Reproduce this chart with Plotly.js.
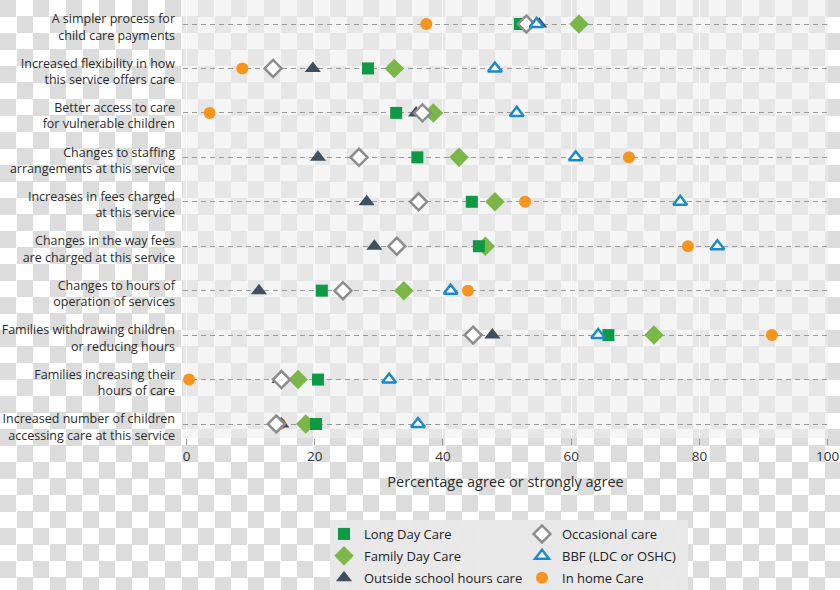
<!DOCTYPE html>
<html>
<head>
<meta charset="utf-8">
<script src="https://cdn.plot.ly/plotly-3.0.1.min.js"></script>
<style>
html,body{margin:0;padding:0;}
body{width:840px;height:590px;overflow:hidden;
background: repeating-conic-gradient(#ffffff 0% 25%, #dcdcdc 0% 50%) 0 0 / 33px 33px;}
#chart{width:840px;height:590px;}
</style>
</head>
<body>
<div id="chart"></div>
<script>
const categories = [
  "A simpler process for<br>child care payments",
  "Increased flexibility in how<br>this service offers care",
  "Better access to care<br>for vulnerable children",
  "Changes to staffing<br>arrangements at this service",
  "Increases in fees charged<br>at this service",
  "Changes in the way fees<br>are charged at this service",
  "Changes to hours of<br>operation of services",
  "Families withdrawing children<br>or reducing hours",
  "Families increasing their<br>hours of care",
  "Increased number of children<br>accessing care at this service"
];
const longDayCare   = [52.0, 28.3, 32.7, 36.0, 44.5, 45.6, 21.1, 65.8, 20.5, 20.2];
const familyDayCare = [61.2, 32.4, 38.5, 42.5, 48.1, 46.6, 33.9, 72.9, 17.4, 18.6];
const outsideSchool = [55.0, 19.7, 35.8, 20.5, 28.1, 29.3, 11.3, 47.7, 14.5, 14.8];
const occasional    = [53.0, 13.5, 36.8, 26.9, 36.2, 32.8, 24.4, 44.7, 14.8, 14.0];
const bbf           = [54.6, 48.1, 51.5, 60.7, 77.0, 82.8, 41.2, 64.2, 31.6, 36.1];
const inHome        = [37.4,  8.7,  3.6, 69.0, 52.8, 78.2, 43.9, 91.3,  0.4, 14.6];
const xTicks = [0, 20, 40, 60, 80, 100];

function tr(name, vals, symbol, size, fill, line, lw, rank, leg){
  return {type:'scatter', mode:'markers', name:name, x:vals, y:categories,
    legendrank:rank, legend:leg, legendgroup:name,
    marker:{symbol:symbol, size:size, color:fill, line:{color:line, width:lw}},
    hoverinfo:'x+name'};
}
const data = [
  tr('In home Care', inHome, 'circle', 12, '#f7941e', '#f7941e', 0, 3, 'legend2'),
  tr('Family Day Care', familyDayCare, 'diamond', 15, '#7ab648', '#7ab648', 0, 2, 'legend'),
  tr('Outside school hours care', outsideSchool, 'triangle-up', 14, '#3e4f5f', '#3e4f5f', 0, 3, 'legend'),
  tr('Long Day Care', longDayCare, 'square', 12, '#0e9a44', '#0e9a44', 0, 1, 'legend'),
  tr('Occasional care', occasional, 'diamond', 13, '#ffffff', '#8c8c8c', 2.5, 1, 'legend2'),
  tr('BBF (LDC or OSHC)', bbf, 'triangle-up', 12, '#ffffff', '#1b8bc8', 2.5, 2, 'legend2')
];
const legendCommon = {orientation:'v', xanchor:'left', y:-0.1849, yanchor:'top',
    bgcolor:'rgba(0,0,0,0)', borderwidth:0, tracegroupgap:2,
    font:{size:13, color:'#222'}, itemclick:false, itemdoubleclick:false};
const layout = {
  width:840, height:590,
  margin:{l:183, r:12, t:0, b:152, autoexpand:false},
  paper_bgcolor:'rgba(0,0,0,0)',
  plot_bgcolor:'rgba(238,238,240,0.57)',
  font:{family:'"Open Sans", sans-serif', color:'#2b2b2b', size:12},
  showlegend:true,
  xaxis:{range:[-0.55, 100.05], tickvals:xTicks, ticktext:xTicks.map(String),
    showgrid:true, gridcolor:'rgba(255,255,255,0.9)', gridwidth:1, zeroline:false,
    ticks:'outside', ticklen:6, tickcolor:'#999', tickfont:{size:13.5, color:'#333'},
    title:{text:'Percentage agree or strongly agree', font:{size:14.5, color:'#2b2b2b'}, standoff:12},
    fixedrange:true, showline:false, automargin:false},
  yaxis:{type:'category', categoryorder:'array', categoryarray:categories,
    range:[9.315, -0.54], showgrid:true, griddash:'5px,4px', gridcolor:'#9a9a9a', gridwidth:1,
    zeroline:false, ticks:'', ticklabelstandoff:7, ticklabelshift:-3,
    tickfont:{size:12.5, color:'#2b2b2b'}, fixedrange:true, automargin:false},
  legend:Object.assign({x:0.2186}, legendCommon),
  legend2:Object.assign({x:0.5256}, legendCommon),
  shapes:[{type:'rect', xref:'paper', yref:'paper', x0:0.2279, x1:0.783, y0:-0.36, y1:-0.1872,
    fillcolor:'rgba(232,232,232,0.97)', line:{width:0}, layer:'below'}]
};
Plotly.newPlot('chart', data, layout, {displayModeBar:false, staticPlot:true});
</script>
</body>
</html>
